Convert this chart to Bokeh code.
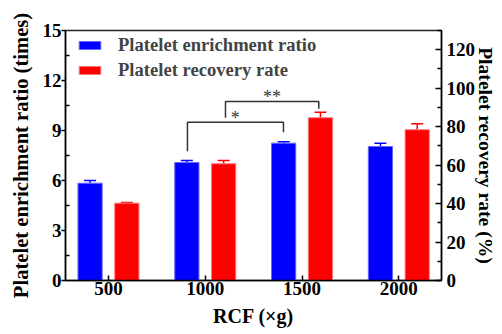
from bokeh.plotting import figure
from bokeh.models import (Range1d, LinearAxis, FixedTicker, ColumnDataSource, Whisker,
                          TeeHead, Legend, LegendItem)
from bokeh.core.properties import value
from bokeh.embed import file_html
from bokeh.resources import INLINE

# ---- data ----
categories = ["500", "1000", "1500", "2000"]
enrichment_ratio = [5.84, 7.08, 8.24, 8.04]        # times (left axis)
enrichment_err = [0.16, 0.12, 0.08, 0.20]
recovery_rate = [40.2, 60.7, 84.6, 78.4]           # % (right axis)
recovery_err = [0.3, 1.7, 2.9, 3.1]
left_ticks = [0, 3, 6, 9, 12, 15]
right_ticks = [0, 20, 40, 60, 80, 100, 120]

FONT = "Liberation Serif"
BLUE = "#0000FF"
RED = "#FF0000"
OFF = 0.19
BW = 0.25

xpos = list(range(1, len(categories) + 1))
blue_src = ColumnDataSource(dict(
    x=[v - OFF for v in xpos], top=enrichment_ratio,
    upper=[a + b for a, b in zip(enrichment_ratio, enrichment_err)]))
red_src = ColumnDataSource(dict(
    x=[v + OFF for v in xpos], top=recovery_rate,
    upper=[a + b for a, b in zip(recovery_rate, recovery_err)]))

p = figure(width=502, height=334, output_backend="svg", toolbar_location=None,
           x_range=Range1d(0.556, 4.441), y_range=Range1d(0, 15),
           min_border_left=65, min_border_right=61, min_border_top=30, min_border_bottom=54)
p.extra_y_ranges = {"rate": Range1d(0, 130)}
p.xgrid.visible = False
p.ygrid.visible = False
p.outline_line_color = "#222222"
p.outline_line_width = 1.5
p.background_fill_color = "white"
p.border_fill_color = "white"

rb = p.vbar(x="x", top="top", width=BW, source=blue_src, fill_color=BLUE,
            line_color="#6666ff", line_width=1)
rr = p.vbar(x="x", top="top", width=BW, source=red_src, fill_color=RED,
            line_color="#ff7777", line_width=1, y_range_name="rate")

wb = Whisker(base="x", upper="upper", lower="top", source=blue_src,
             line_color=BLUE, line_width=1.5, lower_head=None,
             upper_head=TeeHead(size=12, line_color=BLUE, line_width=1.5))
wr = Whisker(base="x", upper="upper", lower="top", source=red_src,
             line_color=RED, line_width=1.5, lower_head=None, y_range_name="rate",
             upper_head=TeeHead(size=12, line_color=RED, line_width=1.5))
p.add_layout(wb)
p.add_layout(wr)

# significance brackets (annotation positions)
p.multi_line(xs=[[1.816, 1.816, 2.808, 2.808], [2.209, 2.209, 3.173, 3.173]],
             ys=[[7.76, 9.5, 9.5, 8.9], [9.76, 10.74, 10.74, 10.3]],
             line_color="#333333", line_width=1.5)
p.text(x=[2.31, 2.69], y=[9.75, 11.0], text=["*", "**"], text_align="center",
       text_baseline="middle", text_font=value(FONT), text_font_size="18px",
       text_color="#333333")

# axes
xa = p.xaxis[0]
xa.ticker = FixedTicker(ticks=xpos)
xa.major_label_overrides = {i: c for i, c in zip(xpos, categories)}
xa.axis_label = "RCF (×g)"
xa.major_tick_in = 5
xa.major_tick_out = 0
xa.minor_tick_in = 0
xa.minor_tick_out = 0
xa.major_label_standoff = 1
xa.axis_label_standoff = 7

ya = p.yaxis[0]
ya.ticker = FixedTicker(ticks=left_ticks, minor_ticks=[1.5, 4.5, 7.5, 10.5, 13.5])
ya.axis_label = "Platelet enrichment ratio (times)"
ya.major_tick_out = 4
ya.major_tick_in = 0
ya.minor_tick_in = 4
ya.minor_tick_out = 0
ya.major_label_standoff = 0
ya.axis_label_standoff = 8

ra = LinearAxis(y_range_name="rate", ticker=FixedTicker(
    ticks=right_ticks, minor_ticks=[10, 30, 50, 70, 90, 110, 130]))
ra.axis_label = "Platelet recovery rate (%)"
ra.major_tick_in = 6
ra.major_tick_out = 0
ra.minor_tick_in = 4
ra.minor_tick_out = 0
ra.major_label_standoff = 5
ra.axis_label_standoff = -3
p.add_layout(ra, "right")

for ax in (xa, ya, ra):
    ax.axis_line_color = "black"
    ax.axis_line_width = 1.5
    ax.major_tick_line_color = "black"
    ax.major_tick_line_width = 1.5
    ax.minor_tick_line_color = "black"
    ax.minor_tick_line_width = 1.5
    ax.major_label_text_font = FONT
    ax.major_label_text_font_style = "bold"
    ax.major_label_text_font_size = "19px"
    ax.major_label_text_color = "black"
    ax.axis_label_text_font = FONT
    ax.axis_label_text_font_style = "bold"
    ax.axis_label_text_font_size = "20.6px"
    ax.axis_label_text_color = "black"
xa.axis_label_text_font_size = "20px"
ra.axis_label_text_font_size = "19.6px"

legend = Legend(items=[LegendItem(label="Platelet enrichment ratio", renderers=[rb]),
                       LegendItem(label="Platelet recovery rate", renderers=[rr])],
                location=(11, 199), border_line_color=None, background_fill_alpha=0,
                label_text_font=FONT, label_text_font_style="bold",
                label_text_font_size="18.6px", glyph_width=27, glyph_height=10,
                label_height=10, spacing=3, padding=0, margin=0, label_standoff=15)
p.add_layout(legend)

open("out.html", "w").write(file_html(p, INLINE))
